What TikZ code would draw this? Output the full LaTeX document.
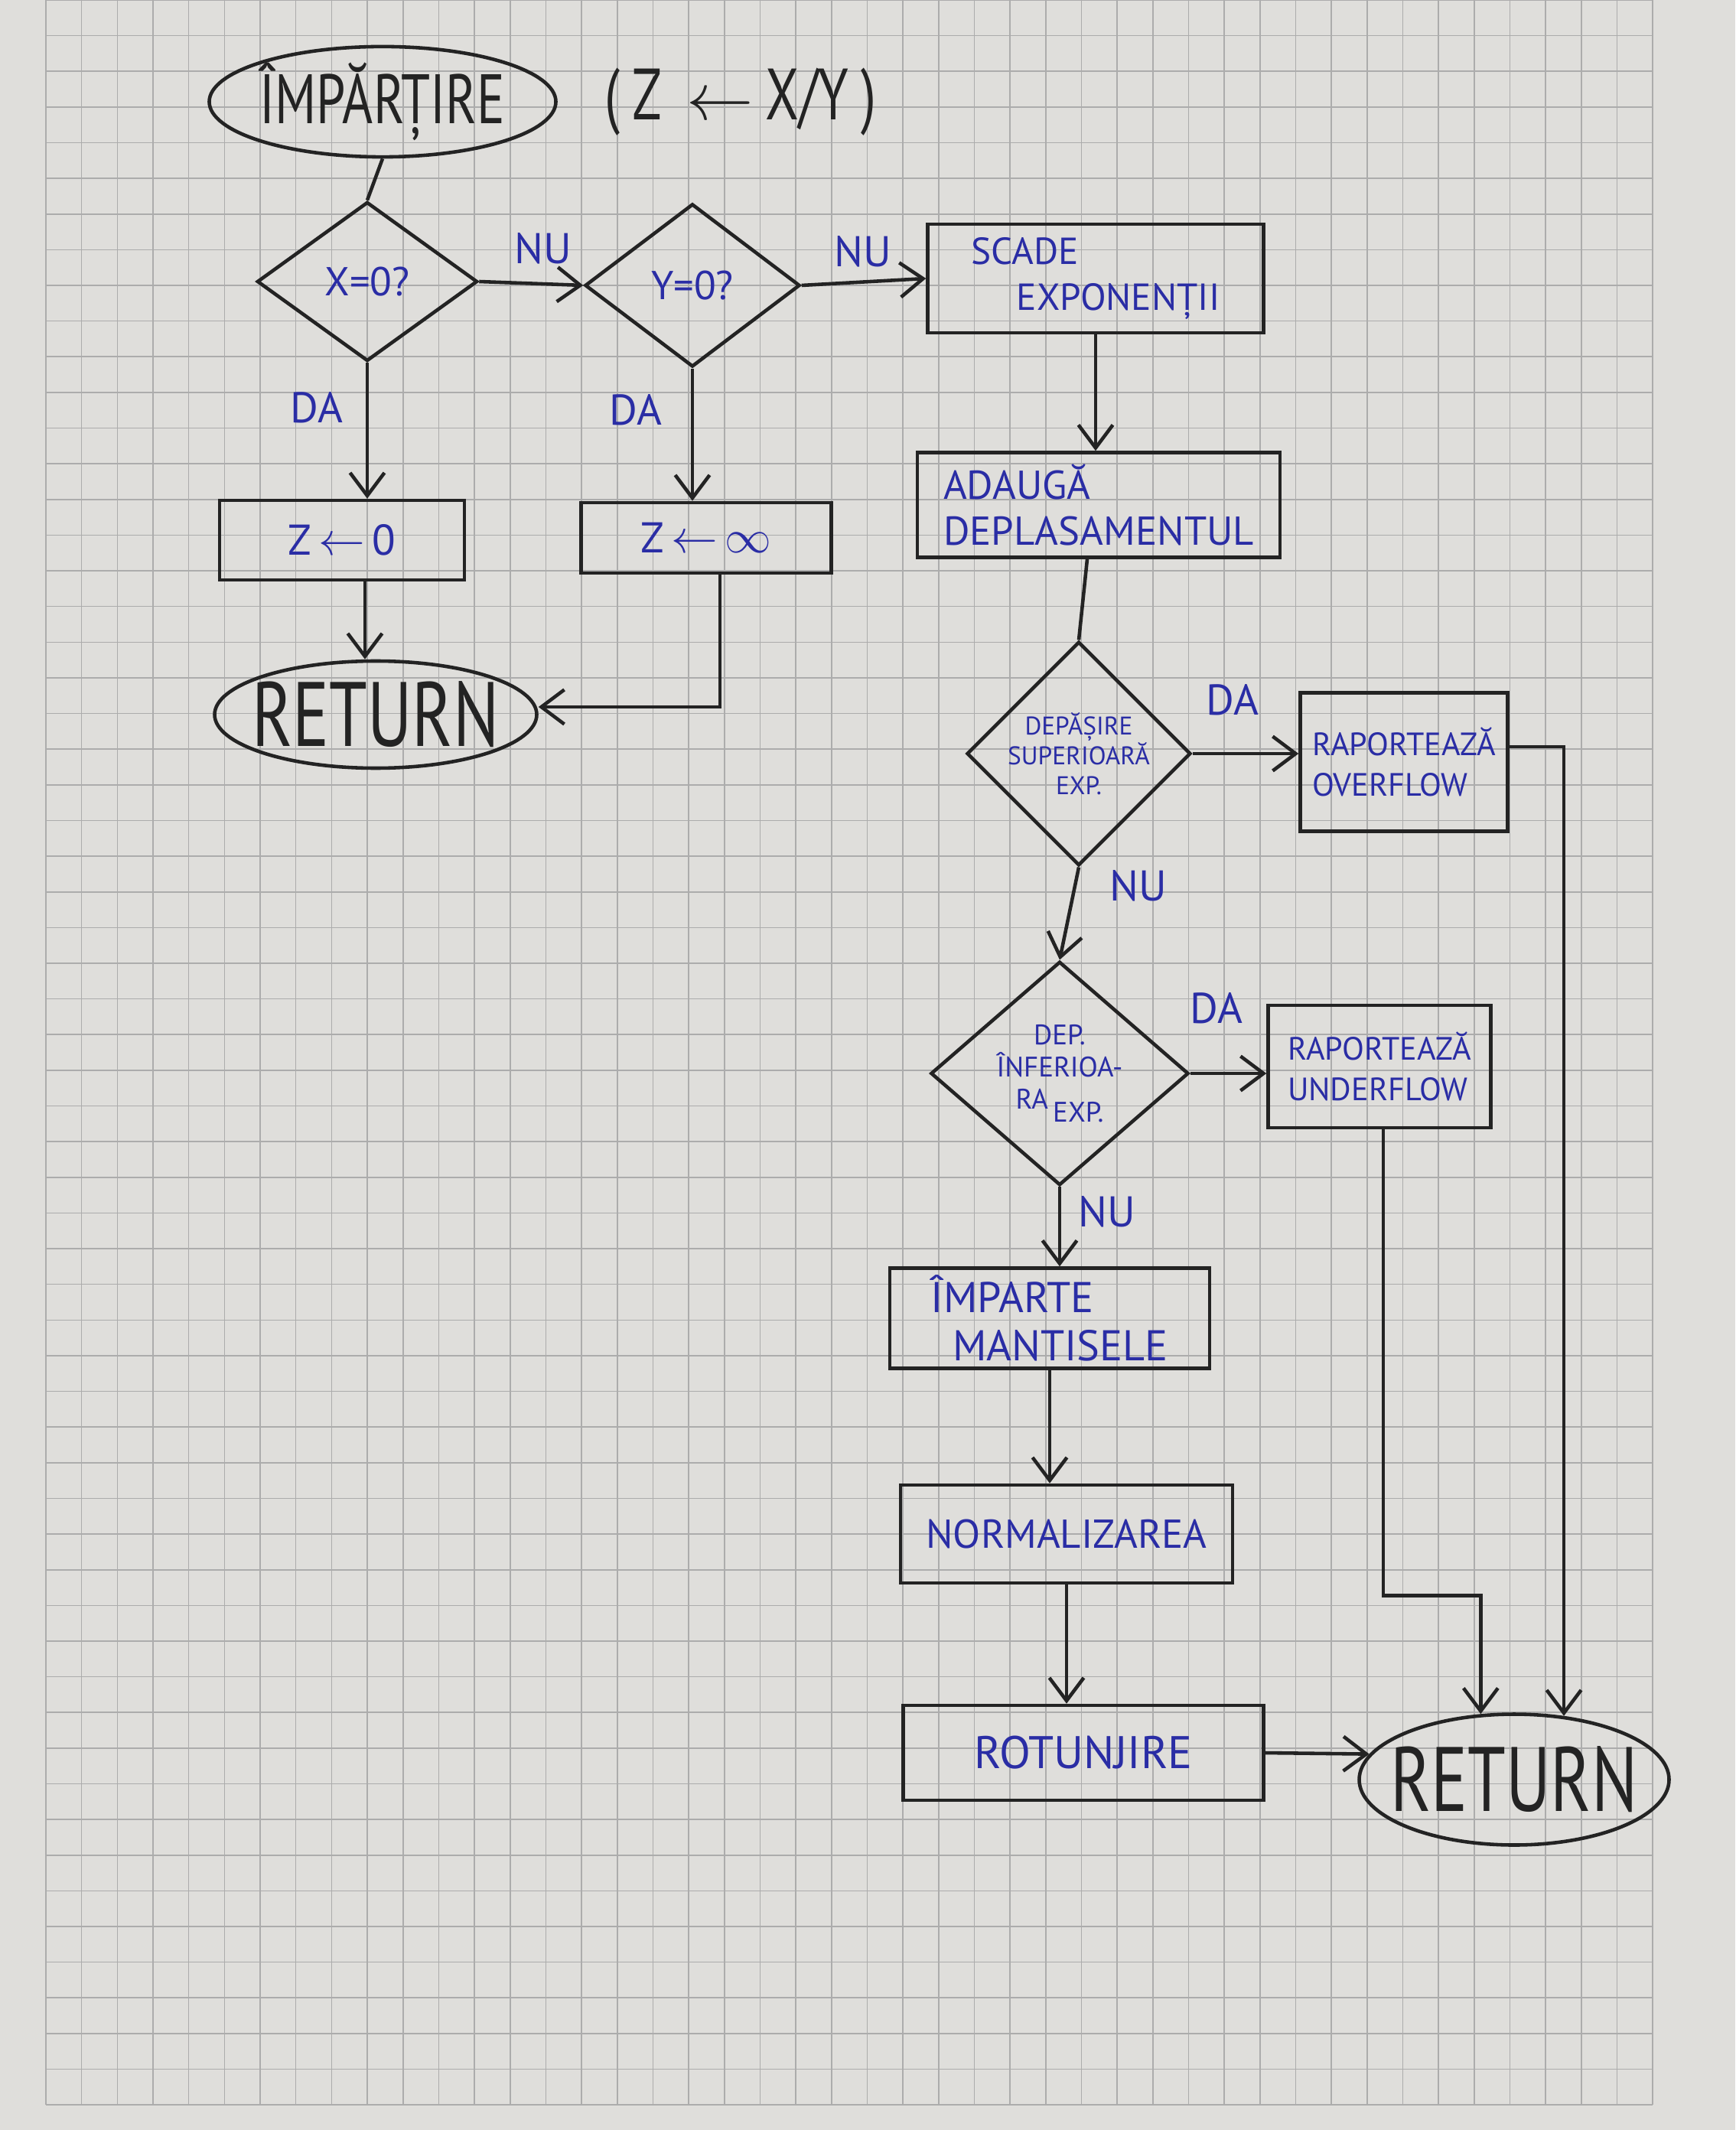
\documentclass[tikz,border=0pt]{standalone}
\usepackage{fontspec}
\setmainfont{PT Sans}
\newfontfamily\hand[FakeStretch=0.75]{PT Sans}
\usetikzlibrary{shapes.geometric,arrows.meta}

\definecolor{ink}{RGB}{35,35,35}
\definecolor{pen}{RGB}{42,45,165}
\definecolor{paper}{RGB}{223,222,219}
\definecolor{gridc}{RGB}{172,172,172}

\tikzset{
  box/.style={draw=ink, line width=1.3pt, rectangle, inner sep=2pt, text=pen,
    font=\fontsize{14}{17}\selectfont},
  dec/.style={draw=ink, line width=1.3pt, diamond, inner sep=0pt, text=pen, align=center},
  term/.style={draw=ink, line width=1.3pt, ellipse, inner sep=0pt, text=ink},
  link/.style={draw=ink, line width=1.3pt},
  arr/.style={link, -{Straight Barb[length=3mm,width=4.5mm]}},
  lbl/.style={text=pen, font=\fontsize{16}{18}\selectfont},
  gridline/.style={draw=gridc, line width=0.45pt},
}

\begin{document}
\begin{tikzpicture}
\fill[paper] (0,0) rectangle (22.68,-27.84);
\useasboundingbox (0,0) rectangle (22.68,-27.84);
% squared paper
\foreach \i in {0,...,45}
  \draw[gridline] ({0.6+\i*0.4667},0) -- ({0.6+\i*0.4667},-27.51);
\foreach \j in {0,...,59}
  \draw[gridline] (0.6,{-\j*0.4663}) -- (21.6,{-\j*0.4663});
%
\node[term, minimum width=4.4cm, minimum height=1.42cm, font=\hand\fontsize{26}{28}\selectfont] (start) at (5.0,-1.33) {ÎMPĂRȚIRE};
\node[text=ink, font=\hand\fontsize{27}{29}\selectfont] (title) at (9.68,-1.33) {(\,Z\,\,$\leftarrow$\,X/Y\,)};
\node[dec, minimum width=2.88cm, minimum height=2.08cm, font=\fontsize{15}{17}\selectfont] (dx) at (4.8,-3.68) {X=0?};
\node[dec, minimum width=2.81cm, minimum height=2.13cm, font=\fontsize{15}{17}\selectfont] (dy) at (9.05,-3.73) {Y=0?};
\node[box, minimum width=4.39cm, minimum height=1.42cm, align=left] (scade) at (14.32,-3.64) {SCADE\\\hspace*{1.2em}EXPONENȚII};
\node[box, minimum width=4.74cm, minimum height=1.37cm, align=left, font=\fontsize{15}{17}\selectfont] (adauga) at (14.36,-6.6) {ADAUGĂ\\DEPLASAMENTUL};
\node[box, minimum width=3.2cm, minimum height=1.04cm, font=\fontsize{16}{18}\selectfont] (z0) at (4.47,-7.06) {Z\,$\leftarrow$\,0};
\node[box, minimum width=3.27cm, minimum height=0.92cm, font=\fontsize{16}{18}\selectfont] (zinf) at (9.23,-7.03) {Z\,$\leftarrow$\,$\infty$};
\node[term, minimum width=4.21cm, minimum height=1.4cm, inner xsep=-3.4mm, font=\hand\fontsize{34}{36}\selectfont] (ret1) at (4.91,-9.34) {RETURN};
%
\node[dec, minimum width=2.79cm, minimum height=2.4cm, font=\fontsize{9.5}{11}\selectfont] (dsup) at (14.1,-9.85) {DEPĂȘIRE\\SUPERIOARĂ\\EXP.};
\node[box, minimum width=2.71cm, minimum height=1.81cm, align=left, font=\fontsize{12}{15}\selectfont] (ovf) at (18.35,-9.96) {RAPORTEAZĂ\\OVERFLOW};
\node[dec, minimum width=3.37cm, minimum height=2.77cm, font=\fontsize{10.5}{12}\selectfont] (dinf) at (13.85,-14.03) {DEP.\\ÎNFERIOA-\\RA\,\raisebox{-0.9ex}{EXP.}};
\node[box, minimum width=2.91cm, minimum height=1.6cm, align=left, font=\fontsize{12}{15}\selectfont] (unf) at (18.03,-13.94) {RAPORTEAZĂ\\UNDERFLOW};
\node[box, minimum width=4.18cm, minimum height=1.31cm, align=left, font=\fontsize{16}{18}\selectfont] (imparte) at (13.72,-17.23) {ÎMPARTE\\\hspace*{0.5em}MANTISELE};
\node[box, minimum width=4.34cm, minimum height=1.28cm, font=\fontsize{15}{17}\selectfont] (norm) at (13.94,-20.05) {NORMALIZAREA};
\node[box, minimum width=4.71cm, minimum height=1.24cm, font=\fontsize{17}{19}\selectfont] (rot) at (14.16,-22.91) {ROTUNJIRE};
\node[term, minimum width=4.05cm, minimum height=1.71cm, inner xsep=-3mm, font=\hand\fontsize{34}{36}\selectfont] (ret2) at (19.79,-23.26) {RETURN};
%
\node[lbl] (nu1) at (7.1,-3.25) {NU};
\node[lbl] (nu2) at (11.28,-3.29) {NU};
\node[lbl] (da1) at (4.14,-5.33) {DA};
\node[lbl] (da2) at (8.31,-5.36) {DA};
\node[lbl] (da3) at (16.11,-9.15) {DA};
\node[lbl] (nu3) at (14.88,-11.58) {NU};
\node[lbl] (da4) at (15.9,-13.18) {DA};
\node[lbl] (nu4) at (14.47,-15.84) {NU};
%
\draw[link] (start.south) -- (dx.north);
\draw[arr] (dx.east) -- (dy.west);
\draw[arr] (dy.east) -- (scade.west);
\draw[arr] (dx.south) -- (dx.south |- z0.north);
\draw[arr] (dy.south) -- (dy.south |- zinf.north);
\draw[arr] ([xshift=3mm]z0.south) -- ([xshift=3mm]z0.south |- ret1.north);
\draw[arr] ([xshift=1.8mm]zinf.south) |- ([yshift=1mm]ret1.east);
\draw[arr] (scade.south) -- (scade.south |- adauga.north);
\draw[link] ([xshift=-1.5mm]adauga.south) -- (dsup.north);
\draw[arr] (dsup.east) -- (dsup.east -| ovf.west);
\draw[arr] (dsup.south) -- (dinf.north);
\draw[arr] (dinf.east) -- (dinf.east -| unf.west);
\draw[arr] (dinf.south) -- (dinf.south |- imparte.north);
\draw[arr] (imparte.south) -- (imparte.south |- norm.north);
\draw[arr] (norm.south) -- (norm.south |- rot.north);
\draw[arr] (rot.east) -- (ret2.170);
\draw[arr] ([yshift=2mm]ovf.east) -| (ret2.52);
\draw[arr] ([xshift=0.5mm]unf.south) |- ([yshift=1.55cm]ret2.117) -- (ret2.117);
\end{tikzpicture}
\end{document}
